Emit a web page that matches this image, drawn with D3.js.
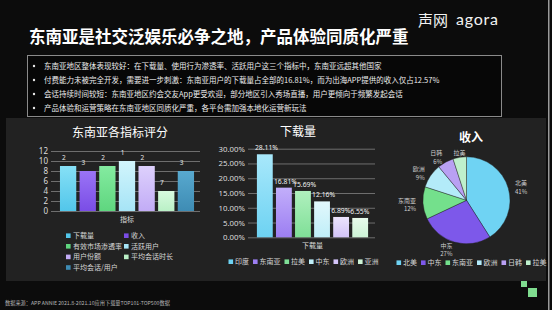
<!DOCTYPE html>
<html>
<head>
<meta charset="utf-8">
<script src="https://cdn.jsdelivr.net/npm/d3@7"></script>
<style>
  html, body { margin: 0; padding: 0; background: #0c0c0c; }
  svg { display: block; font-family: "Noto Sans CJK SC", "Noto Sans", sans-serif; }
</style>
</head>
<body>
<svg width="552" height="310"></svg>
<script>
// ---- data ----
const pageTitle = '东南亚是社交泛娱乐必争之地，产品体验同质化严重';
const bulletLines = [
  '东南亚地区整体表现较好：在下载量、使用行为渗透率、活跃用户这三个指标中，东南亚远超其他国家',
  '付费能力未被完全开发，需要进一步刺激：东南亚用户的下载量占全部的16.81%，而为出海APP提供的收入仅占12.57%',
  '会话持续时间较短：东南亚地区约会交友App更受欢迎，部分地区引入秀场直播，用户更倾向于频繁发起会话',
  '产品体验和运营策略在东南亚地区同质化严重，各平台需加强本地化运营新玩法'
];
const sourceNote = '数据来源：APP ANNIE 2021.8-2021.10应用下载量TOP101-TOP500数据';

const scoreSeries = ['下载量', '收入', '有效市场渗透率', '活跃用户', '用户份额', '平均会话时长', '平均会话/用户'];
const scoreValues = [9, 8, 9, 10, 9, 4, 8];
const scoreRanks = ['2', '3', '2', '1', '2', '7', '3'];
const scoreTicks = [0, 2, 4, 6, 8, 10, 12];
const scoreCategory = '指标';

const dlRegions = ['印度', '东南亚', '拉美', '中东', '欧洲', '亚洲'];
const dlValues = [28.11, 16.81, 15.69, 12.16, 6.89, 6.55];
const dlTicks = [0, 5, 10, 15, 20, 25, 30];
const dlCategory = '下载量';

const revRegions = ['北美', '中东', '东南亚', '欧洲', '日韩', '拉美'];
const revValues = [41, 27, 12, 9, 6, 5];

// ---- palettes (top, bottom of gradient) ----
const scoreColors = [['#86e0f6', '#52c6ea'], ['#9a74f6', '#7a4de6'], ['#84eba0', '#5fd67f'], ['#d2f5fc', '#a6e4f6'],
  ['#ddd0fc', '#c2acf6'], ['#d8fadf', '#baf0c6'], ['#58a9cf', '#3e8cb4']];
const dlColors = [['#a8e8fb', '#6dd2f2'], ['#c2aefa', '#9c7ef2'], ['#b0f0be', '#7fdf97'], ['#e2f8fc', '#bfeef8'],
  ['#ece4fd', '#d3c4f8'], ['#e8fbec', '#cdf3d6']];
const revColors = ['#6fd3f3', '#7d58ea', '#74e08c', '#b3ebf9', '#b9a0f3', '#bff0cc'];

const svg = d3.select('svg');
const defs = svg.append('defs');

function addGradient(id, pair) {
  const g = defs.append('linearGradient').attr('id', id)
    .attr('x1', 0).attr('y1', 0).attr('x2', 0).attr('y2', 1);
  g.append('stop').attr('offset', '0%').attr('stop-color', pair[0]);
  g.append('stop').attr('offset', '100%').attr('stop-color', pair[1]);
  return 'url(#' + id + ')';
}

// background + panels
svg.append('rect').attr('width', 552).attr('height', 310).attr('fill', '#0c0c0c');
svg.append('rect').attr('x', 6).attr('y', 118).attr('width', 540).attr('height', 163).attr('fill', '#222222');
svg.append('rect').attr('x', 548).attr('y', 0).attr('width', 1.5).attr('height', 310).attr('fill', '#9a9a9a');

// header
svg.append('text').attr('x', 29).attr('y', 43).attr('fill', '#ffffff')
  .attr('font-size', 16.5).attr('font-weight', 'bold').text(pageTitle);
svg.append('text').attr('x', 418).attr('y', 26).attr('fill', '#f2f2f2')
  .attr('font-size', 15).text('声网');
svg.append('text').attr('x', 456).attr('y', 25).attr('fill', '#f2f2f2')
  .attr('font-family', 'Lato, "Open Sans", sans-serif')
  .attr('font-size', 16).attr('letter-spacing', 0.8).text('agora');

// bullet box
svg.append('rect').attr('x', 27.5).attr('y', 55.5).attr('width', 474).attr('height', 61)
  .attr('fill', '#070707').attr('stroke', '#8a8a8a').attr('stroke-width', 1);
const bulletY = d3.scalePoint().domain(d3.range(bulletLines.length)).range([66, 108]);
const bullets = svg.append('g').selectAll('g').data(bulletLines).join('g')
  .attr('transform', (d, i) => 'translate(0,' + bulletY(i) + ')');
bullets.append('circle').attr('cx', 34).attr('cy', 0).attr('r', 1.2).attr('fill', '#e8e8e8');
bullets.append('text').attr('x', 44).attr('dy', '0.35em').attr('fill', '#ececec')
  .attr('font-size', 7.5).text(d => d);

// footer
svg.append('text').attr('x', 5).attr('y', 305).attr('fill', '#b5b5b5').attr('font-size', 5.2).text(sourceNote);
svg.append('rect').attr('x', 521).attr('y', 281).attr('width', 6).attr('height', 6).attr('fill', '#7fdc8f');
svg.append('rect').attr('x', 528).attr('y', 288).attr('width', 9).attr('height', 9).attr('fill', '#7fdc8f');

function styleGrid(g) {
  g.select('.domain').remove();
  g.selectAll('.tick line').attr('stroke', '#6e6e6e').attr('stroke-width', 1);
  g.selectAll('.tick text').attr('fill', '#dcdcdc').attr('font-family', '"Noto Sans", sans-serif');
}

// ---- chart 1: score bars ----
const c1 = svg.append('g');
c1.append('text').attr('x', 120).attr('y', 133).attr('dy', '0.35em').attr('text-anchor', 'middle')
  .attr('fill', '#ffffff').attr('font-size', 12).text('东南亚各指标评分');

const y1 = d3.scaleLinear().domain([0, 12]).range([211, 151]);
const x1 = d3.scaleBand().domain(scoreSeries).range([58, 196]).paddingInner(0.17).paddingOuter(0.1);

c1.append('g').attr('transform', 'translate(51,0)')
  .call(d3.axisLeft(y1).tickValues(scoreTicks).tickSize(-149).tickPadding(3))
  .call(styleGrid)
  .call(g => g.selectAll('.tick text').attr('font-size', 8));

c1.append('g').selectAll('rect').data(scoreSeries).join('rect')
  .attr('x', d => x1(d)).attr('width', x1.bandwidth())
  .attr('y', (d, i) => y1(scoreValues[i]))
  .attr('height', (d, i) => y1(0) - y1(scoreValues[i]))
  .attr('fill', (d, i) => addGradient('g1_' + i, scoreColors[i]));

c1.append('g').selectAll('text').data(scoreSeries).join('text')
  .attr('x', d => x1(d) + 2).attr('y', (d, i) => y1(scoreValues[i]) - 6)
  .attr('fill', '#e6e6e6').attr('font-size', 6.5).attr('font-family', '"Noto Sans", sans-serif')
  .text((d, i) => scoreRanks[i]);

c1.append('text').attr('x', (x1.range()[0] + x1.range()[1]) / 2).attr('y', 219.5).attr('dy', '0.35em')
  .attr('text-anchor', 'middle').attr('fill', '#dcdcdc').attr('font-size', 7).text(scoreCategory);

const leg1 = c1.append('g').selectAll('g').data(scoreSeries).join('g')
  .attr('transform', (d, i) => 'translate(' + (i % 2 ? 124 : 66) + ',' + (235.7 + Math.floor(i / 2) * 10.6) + ')');
leg1.append('rect').attr('x', 0).attr('y', -2.3).attr('width', 4.6).attr('height', 4.6)
  .attr('fill', (d, i) => scoreColors[i][1]);
leg1.append('text').attr('x', 7).attr('dy', '0.35em').attr('fill', '#d6d6d6').attr('font-size', 7).text(d => d);

// ---- chart 2: downloads ----
const c2 = svg.append('g');
c2.append('text').attr('x', 298).attr('y', 132).attr('dy', '0.35em').attr('text-anchor', 'middle')
  .attr('fill', '#ffffff').attr('font-size', 12).text('下载量');

const y2 = d3.scaleLinear().domain([0, 30]).range([237.3, 148.7]);
const x2 = d3.scaleBand().domain(dlRegions).range([255, 370]).paddingInner(0.17).paddingOuter(0.1);

c2.append('g').attr('transform', 'translate(248,0)')
  .call(d3.axisLeft(y2).tickValues(dlTicks).tickSize(-127).tickPadding(3)
    .tickFormat(d => d.toFixed(2) + '%'))
  .call(styleGrid)
  .call(g => g.selectAll('.tick text').attr('font-size', 7.8));

c2.append('g').selectAll('rect').data(dlRegions).join('rect')
  .attr('x', d => x2(d)).attr('width', x2.bandwidth())
  .attr('y', (d, i) => y2(dlValues[i]))
  .attr('height', (d, i) => y2(0) - y2(dlValues[i]))
  .attr('fill', (d, i) => addGradient('g2_' + i, dlColors[i]));

c2.append('g').selectAll('text').data(dlRegions).join('text')
  .attr('x', d => x2(d) - 2).attr('y', (d, i) => y2(dlValues[i]) - 4)
  .attr('fill', '#f0f0f0').attr('font-size', 6.8).attr('font-family', '"Noto Sans", sans-serif')
  .text((d, i) => dlValues[i].toFixed(2) + '%');

c2.append('text').attr('x', (x2.range()[0] + x2.range()[1]) / 2).attr('y', 246).attr('dy', '0.35em')
  .attr('text-anchor', 'middle').attr('fill', '#dcdcdc').attr('font-size', 7).text(dlCategory);

function rowLegend(parent, names, colors, x0, y0, fontSize) {
  let x = x0;
  names.forEach((name, i) => {
    const g = parent.append('g').attr('transform', 'translate(' + x + ',' + y0 + ')');
    g.append('rect').attr('x', 0).attr('y', -2.3).attr('width', 4.6).attr('height', 4.6).attr('fill', colors[i]);
    const t = g.append('text').attr('x', 6.5).attr('dy', '0.35em').attr('fill', '#d6d6d6')
      .attr('font-size', fontSize).text(name);
    x += 6.5 + t.node().getComputedTextLength() + 4;
  });
}
rowLegend(c2, dlRegions, dlColors.map(c => c[1]), 228.5, 261.7, 7);

// ---- chart 3: revenue pie ----
const c3 = svg.append('g');
c3.append('text').attr('x', 471).attr('y', 138).attr('dy', '0.35em').attr('text-anchor', 'middle')
  .attr('fill', '#ffffff').attr('font-size', 12).attr('font-weight', 'bold').text('收入');

const cx = 466.5, cy = 200.3, radius = 43.5;
const pie = d3.pie().sort(null).value(d => d)(revValues);
const arc = d3.arc().innerRadius(0).outerRadius(radius);
const sideArc = d3.arc().innerRadius(radius + 7).outerRadius(radius + 7);
const topArc = d3.arc().innerRadius(radius + 2).outerRadius(radius + 2);
const midSin = d => Math.sin((d.startAngle + d.endAngle) / 2);

// labels drawn under the pie, so a label near the top is partly covered
const labelGroups = c3.append('g').attr('transform', 'translate(' + cx + ',' + cy + ')')
  .selectAll('g').data(pie).join('g')
  .attr('transform', d => 'translate(' + (Math.abs(midSin(d)) > 0.2 ? sideArc : topArc).centroid(d) + ')')
  .attr('text-anchor', d => midSin(d) > 0.2 ? 'start' : (midSin(d) < -0.2 ? 'end' : 'middle'))
  .attr('fill', '#cfcfcf').attr('font-size', 6);
labelGroups.append('text').attr('y', -0.8).text((d, i) => revRegions[i]);
labelGroups.append('text').attr('y', 7.6).text(d => d.value + '%');

c3.append('g').attr('transform', 'translate(' + cx + ',' + cy + ')')
  .selectAll('path').data(pie).join('path')
  .attr('d', arc).attr('fill', (d, i) => revColors[i])
  .attr('stroke', '#222').attr('stroke-width', 0.4);

rowLegend(c3, revRegions, revColors, 396.5, 262.7, 7);
</script>
</body>
</html>
